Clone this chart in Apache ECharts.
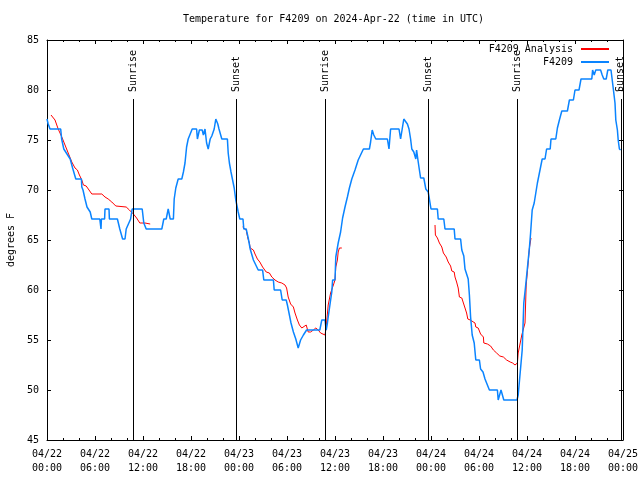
<!DOCTYPE html>
<html><head><meta charset="utf-8">
<script src="https://cdn.jsdelivr.net/npm/echarts@6/dist/echarts.min.js"></script>
<style>html,body{margin:0;padding:0;background:#fff}#c{width:640px;height:480px}</style>
</head><body><div id="c"></div>
<script>
const FONT = 'DejaVu Sans Mono';
const titleText = 'Temperature for F4209 on 2024-Apr-22 (time in UTC)';
const xTickLabels = ['04/22\n00:00','04/22\n06:00','04/22\n12:00','04/22\n18:00','04/23\n00:00','04/23\n06:00','04/23\n12:00','04/23\n18:00','04/24\n00:00','04/24\n06:00','04/24\n12:00','04/24\n18:00','04/25\n00:00'];
const yTicks = [45, 50, 55, 60, 65, 70, 75, 80, 85];
// hours since 04/22 00:00 UTC, degrees F
const sunHours = [10.8, 23.65, 34.8, 47.67, 58.78, 71.72];
const sunNames = ['Sunrise', 'Sunset', 'Sunrise', 'Sunset', 'Sunrise', 'Sunset'];

const blueObs = [[0,77.1],[0.15,76.6],[0.375,76.1],[1.71,76.1],[1.83,75.1],[2.1,74.1],[2.9,73.1],[3.2,72.2],[3.6,71.1],[4.3,71.1],[4.35,70.3],[4.5,70],[4.75,69.1],[5.0,68.3],[5.15,68.1],[5.4,67.8],[5.6,67.1],[6.6,67.1],[6.75,66.1],[6.8,67.1],[7.2,67.1],[7.25,68.1],[7.75,68.1],[7.8,67.1],[8.8,67.1],[9.1,66.1],[9.45,65.1],[9.75,65.1],[9.9,66.1],[10.1,66.1],[10.45,67.1],[10.65,68.1],[11.9,68.1],[12.1,66.7],[12.4,66.1],[14.35,66.1],[14.6,67.1],[14.9,67.1],[15.15,68.1],[15.4,67.1],[15.8,67.1],[15.9,69.1],[16.1,70.2],[16.3,70.8],[16.4,71.1],[16.85,71.1],[17.05,71.8],[17.25,72.7],[17.45,74.3],[17.65,75.1],[17.9,75.3],[18.15,76.1],[18.7,76.1],[18.8,75.1],[19.05,76.0],[19.4,76.0],[19.55,75.5],[19.75,76.1],[19.95,74.7],[20.15,74.1],[20.4,75.1],[20.6,75.4],[20.9,76.1],[21.1,77.1],[21.35,76.6],[21.5,76.1],[21.85,75.1],[22.55,75.1],[22.65,73.7],[22.8,72.7],[23.0,71.8],[23.2,71.0],[23.4,70.2],[23.6,69.0],[23.9,67.8],[24.1,67.1],[24.5,67.1],[24.6,66.1],[24.9,66.1],[25.15,65.2],[25.4,64.1],[25.8,63.0],[26.4,62.0],[26.95,62.0],[27.1,61.0],[28.3,61.0],[28.4,60.0],[29.2,60.0],[29.4,59.0],[29.9,59.0],[30.05,58.5],[30.3,57.5],[30.5,56.7],[30.8,55.8],[31.1,55.1],[31.4,54.2],[31.7,55.0],[32.05,55.5],[32.45,56.0],[34.1,56.0],[34.35,57.0],[34.75,57.0],[34.9,56.0],[35.05,56.7],[35.15,57.3],[35.4,58.7],[35.6,59.8],[35.7,61.0],[36.0,61.0],[36.1,63.3],[36.4,64.7],[36.7,65.8],[36.95,67.2],[37.25,68.3],[37.55,69.3],[37.8,70.2],[38.1,71.1],[38.3,71.1],[38.5,72.0],[38.9,73.0],[39.1,73.2],[39.55,74.1],[40.3,74.1],[40.45,74.8],[40.65,76.0],[40.85,75.5],[41.1,75.1],[42.55,75.1],[42.75,74.1],[42.95,76.1],[44.0,76.1],[44.2,75.1],[44.4,76.1],[44.6,77.1],[44.85,77.1],[45.05,76.6],[45.25,76.1],[45.45,75.1],[45.6,74.1],[45.85,73.8],[46.1,73.1],[46.2,74.0],[46.35,73.1],[46.55,72.0],[46.7,71.2],[47.1,71.2],[47.35,70.1],[47.65,69.8],[47.8,69.1],[48.0,68.1],[48.8,68.1],[48.9,67.1],[49.6,67.1],[49.75,66.1],[50.9,66.1],[51.0,65.1],[51.7,65.1],[51.85,64.0],[52.1,63.4],[52.25,62.1],[52.65,61.1],[52.8,59.5],[52.95,57.3],[53.15,55.5],[53.4,54.7],[53.6,53.0],[54.05,53.0],[54.2,52.1],[54.5,51.8],[54.75,51.1],[55.0,51.0],[55.3,50.0],[56.3,50.0],[56.4,49.0],[56.6,49.0],[56.75,50.0],[56.9,50.0],[57.1,49.0],[58.75,49.0],[58.9,49.5],[59.1,51.3],[59.4,54.0],[59.6,58.7],[59.8,60.2],[60.3,64.2],[60.45,65.7],[60.65,68.0],[60.9,68.7],[61.1,69.7],[61.3,70.7],[61.55,71.7],[61.7,72.3],[61.9,73.1],[62.25,73.1],[62.45,74.1],[62.9,74.1],[63.0,75.1],[63.6,75.1],[63.8,76.2],[64.05,77.0],[64.35,77.9],[65.05,77.9],[65.3,79.0],[65.8,79.0],[66.0,80.0],[66.5,80.0],[66.75,81.1],[68.1,81.1],[68.2,82.0],[68.4,81.5],[68.6,82.0],[69.2,82.0],[69.4,81.5],[69.6,81.1],[69.9,81.1],[70.1,82.0],[70.5,82.0],[70.7,80.7],[70.85,79.7],[71.0,78.7],[71.1,77.0],[71.3,76.0],[71.4,75.0],[71.55,74.1],[71.7,74.0]];

const redSeg1 = [[0.5,77.5],[1.0,77.0],[1.4,76.1],[1.85,75.3],[2.25,74.5],[2.65,73.7],[3.1,72.8],[3.5,72.2],[3.8,72.0],[4.05,71.5],[4.35,71.0],[4.55,70.5],[4.9,70.4],[5.15,70.2],[5.6,69.6],[6.85,69.6],[7.25,69.3],[7.65,69.1],[8.1,68.8],[8.6,68.4],[9.9,68.3],[10.3,68.0],[10.8,67.6],[11.2,67.2],[11.6,66.7],[12.25,66.7],[12.45,66.6],[12.9,66.6]];
const redSeg2 = [[24.45,66.3],[24.9,66.0],[25.1,65.2],[25.3,64.7],[25.4,64.2],[25.8,64.0],[26.0,63.6],[26.3,63.1],[26.6,62.8],[26.95,62.3],[27.4,61.8],[27.8,61.7],[28.1,61.3],[28.5,61.0],[28.9,60.8],[29.35,60.7],[29.75,60.5],[29.95,60.2],[30.15,59.3],[30.45,58.6],[30.8,58.3],[31.0,57.7],[31.3,57.0],[31.55,56.5],[31.85,56.2],[32.1,56.3],[32.4,56.5],[32.55,56.5],[32.65,55.8],[32.95,55.8],[33.3,56.0],[33.6,56.2],[33.9,56.0],[34.2,55.7],[34.45,55.6],[34.75,55.5],[34.9,56.3],[35.15,58.5],[35.4,58.7],[35.45,59.7],[35.65,59.8],[35.8,60.5],[36.0,61.0],[36.1,62.3],[36.3,63.0],[36.4,63.8],[36.55,64.2],[36.85,64.2]];
const redSeg3 = [[48.5,66.5],[48.55,65.5],[48.8,65.2],[49.05,64.7],[49.35,64.3],[49.55,63.7],[49.9,63.3],[50.15,62.8],[50.45,62.4],[50.6,61.9],[50.9,61.8],[51.0,61.3],[51.2,60.8],[51.4,60.2],[51.55,59.3],[51.85,59.2],[52.05,58.7],[52.25,58.2],[52.45,57.7],[52.6,57.1],[52.9,57.0],[53.1,56.8],[53.5,56.7],[53.6,56.3],[53.9,56.2],[54.2,55.6],[54.55,55.3],[54.6,54.7],[55.05,54.6],[55.45,54.4],[55.8,54.0],[56.2,53.7],[56.6,53.4],[57.05,53.3],[57.45,53.0],[57.9,52.8],[58.2,52.7],[58.5,52.5],[58.6,52.4],[58.8,52.7],[58.9,53.7],[59.1,54.5],[59.35,55.5],[59.55,55.6],[59.75,56.7],[59.9,60.5],[60.1,62.3],[60.3,64.2],[60.5,65.2]];

const redObs = [].concat(redSeg1, [[18, null]], redSeg2, [[42, null]], redSeg3);

const txt = {fontFamily: FONT, fontSize: 10, color: '#000'};
const axisCommon = {
  axisLine: {show: true, onZero: false, lineStyle: {color: '#000', width: 1}},
  splitLine: {show: false},
};
const chart = echarts.init(document.getElementById('c'), null, {renderer: 'canvas'});

const sunMarks = sunHours.map(h => [{coord: [h, 45]}, {coord: [h, 79.1]}]);

const legendCommon = {orient: 'vertical', align: 'right', itemWidth: 28, itemHeight: 2, icon: 'rect', padding: 0, itemGap: 0,
  textStyle: Object.assign({}, txt, {padding: [0, 3, 0, 0]}), selectedMode: false};

chart.setOption({
  animation: false,
  backgroundColor: '#fff',
  title: {text: titleText, left: 183, top: 14, padding: 0, textStyle: Object.assign({}, txt, {fontWeight: 'normal'})},
  legend: [
    Object.assign({data: ['F4209 Analysis'], right: 31, top: 44}, legendCommon),
    Object.assign({data: ['F4209'], right: 31, top: 57}, legendCommon)
  ],
  grid: {left: 47, right: 17, top: 40, bottom: 40, containLabel: false, outerBoundsMode: 'none'},
  xAxis: [
    Object.assign({type: 'value', min: 0, max: 72, interval: 6, position: 'bottom',
      axisTick: {inside: true, length: 4, lineStyle: {color: '#000'}},
      minorTick: {show: true, splitNumber: 3, length: 2, lineStyle: {color: '#000'}},
      axisLabel: Object.assign({}, txt, {margin: 7, lineHeight: 14, formatter: v => xTickLabels[Math.round(v / 6)]})}, axisCommon),
    Object.assign({type: 'value', min: 0, max: 72, interval: 6, position: 'top',
      axisTick: {inside: true, length: 4, lineStyle: {color: '#000'}},
      minorTick: {show: true, splitNumber: 3, length: 2, lineStyle: {color: '#000'}},
      axisLabel: {show: false}}, axisCommon)
  ],
  yAxis: [
    Object.assign({type: 'value', min: yTicks[0], max: yTicks[yTicks.length - 1], interval: 5, position: 'left',
      name: 'degrees F', nameLocation: 'middle', nameGap: 31, nameRotate: 90, nameTextStyle: txt,
      axisTick: {inside: true, length: 4, lineStyle: {color: '#000'}},
      axisLabel: Object.assign({}, txt, {margin: 8})}, axisCommon),
    Object.assign({type: 'value', min: yTicks[0], max: yTicks[yTicks.length - 1], interval: 5, position: 'right',
      axisTick: {inside: true, length: 4, lineStyle: {color: '#000'}},
      axisLabel: {show: false}}, axisCommon)
  ],
  series: [
    {name: 'F4209 Analysis', type: 'line', data: redObs, showSymbol: false, connectNulls: false,
      lineStyle: {color: '#ff0000', width: 1}, itemStyle: {color: '#ff0000'}, z: 2},
    {name: 'F4209', type: 'line', data: blueObs, showSymbol: false,
      lineStyle: {color: '#0a84ff', width: 1.5}, itemStyle: {color: '#0a84ff'}, z: 3},
    {name: 'sun', type: 'line', data: [], z: 4,
      markLine: {silent: true, symbol: ['none', 'none'], animation: false,
        lineStyle: {color: '#000', width: 1, type: 'solid'}, label: {show: false}, data: sunMarks}}
  ]
});

// rotated Sunrise / Sunset labels, positioned from the axis scale
const labelEls = sunHours.map((h, i) => {
  const p = chart.convertToPixel({xAxisIndex: 0, yAxisIndex: 0}, [h, 79.8]);
  return {type: 'text', x: p[0], y: p[1], rotation: Math.PI / 2, z: 10, silent: true,
    style: {text: sunNames[i], fontFamily: FONT, fontSize: 10, fill: '#000', align: 'left', verticalAlign: 'middle'}};
});
chart.setOption({graphic: labelEls});
</script></body></html>
